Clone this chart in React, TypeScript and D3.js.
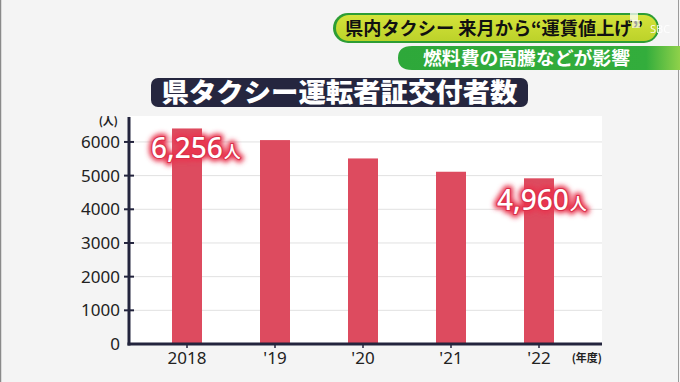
import React from "react";
import * as d3 from "d3";

const categories = ["2018", "'19", "'20", "'21", "'22"];
const values = [6400, 6055, 5510, 5115, 4920];
const yTicks = [0, 1000, 2000, 3000, 4000, 5000, 6000];
const labelIndex = [0, 4];
const labelTexts = ["6,256", "4,960"];
const title = "県タクシー運転者証交付者数";
const headline = "県内タクシー 来月から“運賃値上げ”";
const subline = "燃料費の高騰などが影響";

const W = 680;
const H = 382;
const plotLeft = 130;
const plotRight = 602;
const plotTop = 116;
const plotBottom = 344;

const FONT = "'Noto Sans CJK JP', 'Noto Sans', sans-serif";
const NAVY = "#23243d";
const BAR = "#dd4b5f";

export default function App() {
  const x = d3.scalePoint<string>().domain(categories).range([187, 539]);
  const y = d3.scaleLinear().domain([0, 6800]).range([plotBottom, 115]);
  const barW = 30;

  return (
    <svg
      width={W}
      height={H}
      viewBox={`0 0 ${W} ${H}`}
      style={{ position: "absolute", left: 0, top: 0, fontFamily: FONT }}
    >
      <defs>
        <filter id="glow" x="-20%" y="-50%" width="140%" height="200%">
          <feGaussianBlur stdDeviation="2.6" />
        </filter>
        <linearGradient id="greenBar" x1="0" x2="1" y1="0" y2="0">
          <stop offset="0" stopColor="#2ea83a" />
          <stop offset="0.88" stopColor="#33ad3c" />
          <stop offset="1" stopColor="#8fd14a" />
        </linearGradient>
        <linearGradient id="pill" x1="0" x2="0" y1="0" y2="1">
          <stop offset="0" stopColor="#d4e33a" />
          <stop offset="1" stopColor="#bcd22a" />
        </linearGradient>
      </defs>

      <rect x={0} y={0} width={W} height={H} fill="#f4f4f4" />
      <line x1={0.5} y1={0} x2={0.5} y2={H} stroke="#8a8a8a" strokeWidth={1.5} />
      <line x1={678.5} y1={0} x2={678.5} y2={H} stroke="#9a9a9a" strokeWidth={1} />

      {/* Headline banners */}
      <path
        d={`M 405 46 L 680 46 L 680 70 L 412 70 Q 398 70 398 58 Q 398 46 412 46 Z`}
        fill="url(#greenBar)"
      />
      <rect x={333} y={13} width={326} height={30} rx={15} fill="#2d9d34" />
      <rect x={336} y={15} width={321} height={26} rx={13} fill="url(#pill)" />
      <text
        x={345}
        y={35}
        fontSize={18}
        fontWeight={700}
        fill="#111"
        textLength={298}
        lengthAdjust="spacingAndGlyphs"
      >
        {headline}
      </text>
      <text x={423} y={65} fontSize={18.5} fontWeight={700} fill="#fff" textLength={207} lengthAdjust="spacingAndGlyphs">
        {subline}
      </text>
      <rect x={630} y={13} width={8} height={8} fill="#fff" opacity={0.75} />
      <rect x={632} y={20} width={8} height={8} fill="#fff" opacity={0.6} />
      <text x={650} y={33} fontSize={11} fill="#fff" opacity={0.85} fontFamily="'Noto Sans', sans-serif">
        SBC
      </text>

      {/* Title */}
      <rect x={151} y={78} width={377} height={29} rx={7} fill="#25263f" />
      <text
        x={339.5}
        y={102}
        textAnchor="middle"
        fontSize={26}
        fontWeight={900}
        fill="#fff"
        textLength={356}
        lengthAdjust="spacingAndGlyphs"
      >
        {title}
      </text>

      {/* Plot area */}
      <rect x={plotLeft} y={plotTop} width={plotRight - plotLeft} height={plotBottom - plotTop} fill="#fff" />
      {yTicks.filter((t) => t > 0).map((t) => (
        <line key={`g${t}`} x1={plotLeft} x2={plotRight} y1={y(t)} y2={y(t)} stroke="#e1e1e1" strokeWidth={1} />
      ))}

      {categories.map((c, i) => (
        <rect
          key={c}
          x={(x(c) as number) - barW / 2}
          y={y(values[i])}
          width={barW}
          height={plotBottom - y(values[i])}
          fill={BAR}
        />
      ))}

      {/* Axes */}
      <line x1={129} y1={117} x2={129} y2={plotBottom + 1.5} stroke={NAVY} strokeWidth={3} />
      <line x1={127.5} y1={plotBottom} x2={plotRight} y2={plotBottom} stroke={NAVY} strokeWidth={3} />
      {yTicks.filter((t) => t > 0).map((t) => (
        <line key={`t${t}`} x1={124} x2={134} y1={y(t)} y2={y(t)} stroke={NAVY} strokeWidth={2} />
      ))}
      {categories.map((c) => (
        <line key={`xt${c}`} x1={x(c)} x2={x(c)} y1={plotBottom} y2={plotBottom + 4} stroke={NAVY} strokeWidth={1.5} />
      ))}
      {yTicks.map((t) => (
        <text key={`yl${t}`} x={120} y={y(t) + 6} textAnchor="end" fontSize={17} fill="#222" fontFamily="'Noto Sans', sans-serif">
          {t}
        </text>
      ))}
      {categories.map((c) => (
        <text key={`xl${c}`} x={x(c)} y={364} textAnchor="middle" fontSize={17} fill="#222" fontFamily="'Noto Sans', sans-serif">
          {c}
        </text>
      ))}
      <text x={118} y={125} textAnchor="end" fontSize={11} fontWeight={700} fill="#222">
        (人)
      </text>
      <text x={602} y={362} textAnchor="end" fontSize={11} fontWeight={700} fill="#222">
        (年度)
      </text>

      {/* Value labels */}
      {labelIndex.map((idx, k) => {
        const cx = x(categories[idx]) as number;
        const by = idx === 0 ? 158 : 210;
        const sx = idx === 0 ? cx - 36 : cx - 42;
        const content = (
          <>
            <tspan fontSize={28}>{labelTexts[k]}</tspan>
            <tspan fontSize={17} dx={1}>人</tspan>
          </>
        );
        return (
          <g key={`lab${idx}`} fontFamily="'Noto Sans', 'Noto Sans CJK JP', sans-serif" fontWeight={500}>
            <text x={sx} y={by} fill="#e8364f" stroke="#e8364f" strokeWidth={7} strokeLinejoin="round" filter="url(#glow)">
              {content}
            </text>
            <text x={sx} y={by} fill="#fff" stroke="#d93049" strokeWidth={2} strokeLinejoin="round" style={{ paintOrder: "stroke" }}>
              {content}
            </text>
          </g>
        );
      })}
    </svg>
  );
}
